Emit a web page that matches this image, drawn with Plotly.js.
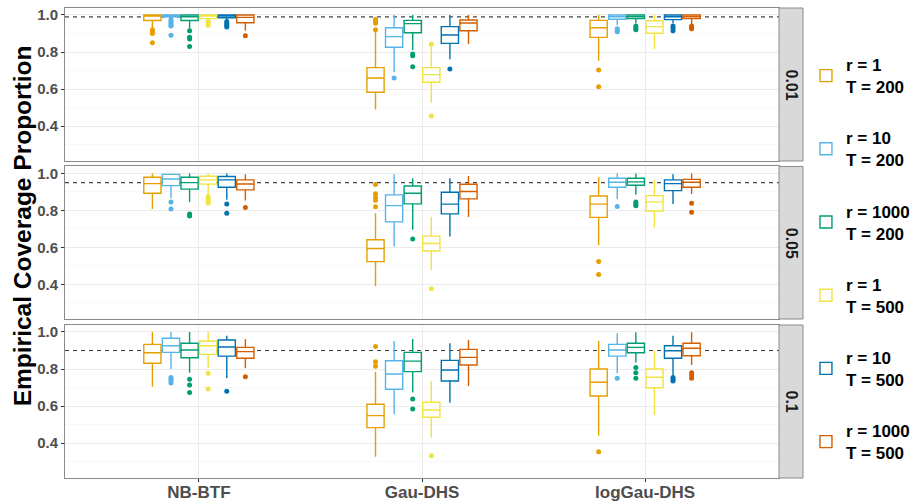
<!DOCTYPE html>
<html><head><meta charset="utf-8">
<script src="https://cdn.plot.ly/plotly-3.0.1.min.js"></script>
<style>html,body{margin:0;padding:0;background:#fff}#chart{width:914px;height:501px}</style>
</head><body><div id="chart"></div>
<script>
// ---------------- data ----------------
const methods = ['NB-BTF', 'Gau-DHS', 'logGau-DHS'];
const facetLabels = ['0.01', '0.05', '0.1'];
const nominal = [0.99, 0.95, 0.90];
const groupNames = ['r = 1<br>T = 200', 'r = 10<br>T = 200', 'r = 1000<br>T = 200',
                    'r = 1<br>T = 500', 'r = 10<br>T = 500', 'r = 1000<br>T = 500'];
const colors = ['#E69F00', '#56B4E9', '#009E73', '#F0E442', '#0072B2', '#D55E00'];
const yTicks = [0.4, 0.6, 0.8, 1.0];
const yMinor = [0.3, 0.5, 0.7, 0.9];

// facet 0.01 : per group, values for [NB-BTF, Gau-DHS, logGau-DHS]
const lower_f1  = [[0.925,0.49,0.753],[0.985,0.691,0.946],[0.925,0.811,0.955],[0.975,0.527,0.816],[0.975,0.761,0.955],[0.915,0.843,0.95]];
const q1_f1     = [[0.97,0.583,0.879],[0.99,0.826,0.977],[0.97,0.904,0.98],[0.98,0.637,0.901],[0.985,0.847,0.975],[0.958,0.915,0.98]];
const median_f1 = [[0.995,0.66,0.931],[1.0,0.883,0.99],[0.99,0.953,0.99],[0.995,0.678,0.937],[0.995,0.892,0.99],[0.987,0.957,0.99]];
const q3_f1     = [[1.0,0.716,0.971],[1.0,0.931,1.0],[1.0,0.971,1.0],[1.0,0.716,0.969],[1.0,0.937,1.0],[1.0,0.973,1.0]];
const upper_f1  = [[1.0,0.91,1.0],[1.0,1.0,1.0],[1.0,1.0,1.0],[1.0,0.83,1.0],[1.0,1.0,1.0],[1.0,1.0,1.0]];
const outliers_f1 = [
  [[0.92,0.91,0.90,0.85],[0.975,0.965,0.955,0.92],[0.703,0.613]],
  [[0.975,0.965,0.955,0.945,0.94,0.89],[0.66],[0.925,0.915,0.91]],
  [[0.915,0.88,0.87,0.83],[0.79,0.78,0.721],[0.94,0.93,0.92]],
  [[0.965,0.955,0.945],[0.842,0.455],[]],
  [[0.965,0.955,0.945,0.935],[0.709],[0.94,0.93,0.915]],
  [[0.888],[],[0.94,0.93,0.925]]
];

// facet 0.05
const lower_f2  = [[0.808,0.39,0.611],[0.866,0.605,0.86],[0.845,0.695,0.884],[0.884,0.476,0.708],[0.857,0.659,0.835],[0.853,0.764,0.888]];
const q1_f2     = [[0.893,0.523,0.762],[0.934,0.738,0.925],[0.915,0.835,0.936],[0.942,0.58,0.797],[0.925,0.781,0.907],[0.911,0.862,0.925]];
const median_f2 = [[0.945,0.594,0.834],[0.97,0.826,0.952],[0.95,0.893,0.954],[0.965,0.621,0.846],[0.965,0.834,0.945],[0.943,0.902,0.952]];
const q3_f2     = [[0.979,0.641,0.878],[0.995,0.884,0.974],[0.979,0.932,0.974],[0.985,0.661,0.88],[0.983,0.898,0.965],[0.965,0.941,0.968]];
const upper_f2  = [[1.0,0.785,0.979],[1.0,0.995,1.0],[1.0,0.974,1.0],[1.0,0.764,0.965],[1.0,0.974,0.995],[0.995,0.986,1.0]];
const outliers_f2 = [
  [[],[0.94,0.89,0.87,0.855,0.82],[0.524,0.453]],
  [[0.845,0.808],[],[0.821]],
  [[0.78,0.77],[0.645],[0.845,0.835,0.825]],
  [[0.875,0.86,0.85,0.84],[0.376],[]],
  [[0.835,0.785],[],[]],
  [[0.815],[],[0.839,0.79]]
];

// facet 0.1
const lower_f3  = [[0.705,0.327,0.441],[0.80,0.556,0.777],[0.78,0.673,0.836],[0.804,0.43,0.552],[0.75,0.619,0.764],[0.804,0.709,0.822]];
const q1_f3     = [[0.831,0.484,0.655],[0.89,0.691,0.87],[0.861,0.786,0.888],[0.879,0.54,0.699],[0.87,0.736,0.858],[0.858,0.822,0.872]];
const median_f3 = [[0.888,0.549,0.729],[0.926,0.773,0.903],[0.903,0.843,0.917],[0.926,0.579,0.756],[0.919,0.795,0.899],[0.894,0.863,0.912]];
const q3_f3     = [[0.933,0.61,0.80],[0.966,0.845,0.933],[0.939,0.89,0.939],[0.951,0.621,0.80],[0.957,0.847,0.926],[0.917,0.906,0.939]];
const upper_f3  = [[1.0,0.786,0.953],[1.0,0.951,0.993],[1.0,0.962,0.998],[1.0,0.736,0.897],[0.98,0.939,0.98],[0.962,0.957,0.998]];
const outliers_f3 = [
  [[],[0.921,0.84,0.815],[0.354]],
  [[0.755,0.745,0.735,0.725],[],[0.75]],
  [[0.745,0.714,0.673],[0.639,0.585],[0.809,0.78,0.75]],
  [[0.777,0.692],[0.333],[]],
  [[0.68],[],[0.755,0.745,0.735]],
  [[0.759],[],[0.78,0.765,0.75]]
];

// ---------------- build ----------------
const facets = [
  {lower: lower_f1, q1: q1_f1, med: median_f1, q3: q3_f1, upper: upper_f1, out: outliers_f1},
  {lower: lower_f2, q1: q1_f2, med: median_f2, q3: q3_f2, upper: upper_f2, out: outliers_f2},
  {lower: lower_f3, q1: q1_f3, med: median_f3, q3: q3_f3, upper: upper_f3, out: outliers_f3}
];
const FONT = 'Liberation Sans, Arial, sans-serif';
const traces = [];
facets.forEach((fd, fi) => {
  const ax = fi === 0 ? '' : String(fi + 1);
  groupNames.forEach((g, gi) => {
    traces.push({
      type: 'box', name: g, legendgroup: 'g' + gi, offsetgroup: 'g' + gi, showlegend: fi === 0,
      x: methods,
      q1: fd.q1[gi], median: fd.med[gi], q3: fd.q3[gi],
      lowerfence: fd.lower[gi], upperfence: fd.upper[gi],
      // empty outlier lists become [null] so the sample array stays 2-D
      y: fd.out[gi].map(a => (a.length ? a : [null])),
      boxpoints: 'outliers', jitter: 0, pointpos: 0,
      marker: {color: colors[gi], size: 5, line: {width: 0}},
      line: {color: colors[gi], width: 1.4},
      fillcolor: '#ffffff', whiskerwidth: 0,
      xaxis: 'x' + ax, yaxis: 'y' + ax, hoverinfo: 'skip'
    });
  });
});

const domains = [[0.6745, 1], [0.3383, 0.6628], [0, 0.3255]];
const panelRight = 0.9675;
const gridC = '#EBEBEB', borderC = '#8A8A8A', tickC = '#4D4D4D';
const layout = {
  width: 914, height: 501,
  margin: {l: 65, r: 111, t: 8, b: 23, autoexpand: false},
  paper_bgcolor: '#fff', plot_bgcolor: '#fff',
  boxmode: 'group', boxgap: 0.5, boxgroupgap: 0.075,
  font: {family: FONT},
  legend: {x: 1.004, xanchor: 'left', y: 0.917, yanchor: 'top', tracegroupgap: 26,
           font: {family: FONT, size: 17, color: '#000', weight: 'bold'}, bgcolor: 'rgba(0,0,0,0)'},
  shapes: [], annotations: []
};
domains.forEach((d, fi) => {
  const ax = fi === 0 ? '' : String(fi + 1);
  const xa = {
    domain: [0, panelRight], anchor: 'y' + ax, type: 'category', range: [-0.6, 2.6],
    showgrid: true, gridcolor: gridC, gridwidth: 1, zeroline: false,
    showline: true, mirror: true, linecolor: borderC, linewidth: 1,
    showticklabels: fi === 2, ticks: fi === 2 ? 'outside' : '', ticklen: 3, tickcolor: '#333',
    tickfont: {family: FONT, size: 17, color: tickC, weight: 'bold'}, automargin: false
  };
  if (fi === 2) xa.ticklabelstandoff = -4;
  layout['xaxis' + ax] = xa;
  layout['yaxis' + ax] = {
    domain: d, anchor: 'x' + ax, range: [0.2125, 1.0375],
    tickmode: 'array', tickvals: yTicks, ticktext: yTicks.map(v => v.toFixed(1)),
    ticks: 'outside', ticklen: 3, tickcolor: '#333',
    tickfont: {family: FONT, size: 15, color: tickC, weight: 'bold'},
    showgrid: true, gridcolor: gridC, gridwidth: 1, zeroline: false,
    minor: {tickmode: 'array', tickvals: yMinor.filter(v => Math.abs(v - nominal[fi]) > 1e-9),
            showgrid: true, gridcolor: '#F4F4F4', gridwidth: 0.6, ticks: ''},
    showline: true, mirror: true, linecolor: borderC, linewidth: 1, automargin: false
  };
  layout.shapes.push({type: 'line', xref: 'x' + ax + ' domain', x0: 0, x1: 1, yref: 'y' + ax,
    y0: nominal[fi], y1: nominal[fi], layer: 'below', line: {color: '#444', width: 1.2, dash: '4px,4px'}});
  layout.shapes.push({type: 'rect', xref: 'paper', x0: panelRight, x1: 1, yref: 'paper', y0: d[0], y1: d[1],
    fillcolor: '#D9D9D9', line: {color: borderC, width: 1}, layer: 'above'});
  layout.annotations.push({xref: 'paper', yref: 'paper', x: (panelRight + 1) / 2, y: (d[0] + d[1]) / 2,
    xanchor: 'center', yanchor: 'middle',
    text: facetLabels[fi], showarrow: false, textangle: 90,
    font: {family: FONT, size: 16, color: '#1A1A1A', weight: 'bold'}});
});
layout.annotations.push({xref: 'paper', yref: 'paper', x: -0.058, y: 0.536, xanchor: 'center', yanchor: 'middle',
  text: 'Empirical Coverage Proportion',
  showarrow: false, textangle: -90, font: {family: FONT, size: 24.5, color: '#000', weight: 'bold'}});

Plotly.newPlot('chart', traces, layout, {displayModeBar: false, staticPlot: true});
</script>
</body></html>
